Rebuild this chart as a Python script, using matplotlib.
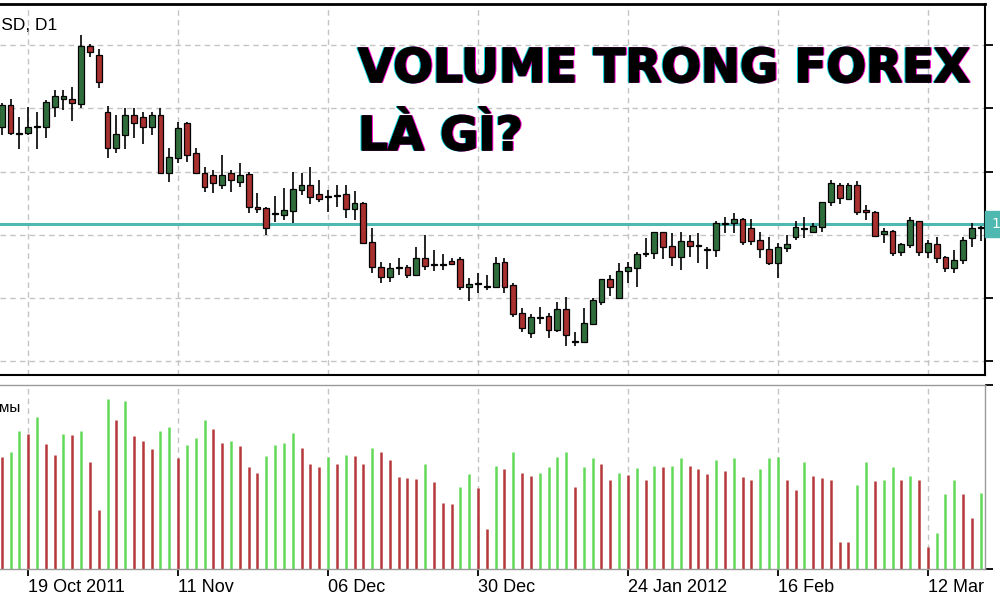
import matplotlib
matplotlib.use("Agg")
import matplotlib.pyplot as plt
import matplotlib.transforms as mtransforms
import matplotlib.patheffects as pe
import numpy as np

# EURUSD daily, 14 Oct 2011 .. 16 Mar 2012
opens = [1.3765, 1.3875, 1.3735, 1.3735, 1.3765, 1.3765, 1.3865, 1.3905, 1.3905, 1.3880,
         1.4170, 1.4125, 1.3840, 1.3660, 1.3725, 1.3825, 1.3815, 1.3765, 1.3825, 1.3535,
         1.3610, 1.3785, 1.3635, 1.3535, 1.3525, 1.3475, 1.3535, 1.3490, 1.3530, 1.3365,
         1.3360, 1.3330, 1.3325, 1.3345, 1.3450, 1.3475, 1.3430, 1.3420, 1.3420, 1.3430,
         1.3355, 1.3385, 1.3190, 1.3065, 1.3015, 1.3065, 1.3065, 1.3025, 1.3110, 1.3080,
         1.3080, 1.3095, 1.3105, 1.2965, 1.2985, 1.2965, 1.2965, 1.3090, 1.2975, 1.2835,
         1.2735, 1.2815, 1.2820, 1.2750, 1.2855, 1.2695, 1.2690, 1.2780, 1.2890, 1.3005,
         1.2910, 1.3045, 1.3060, 1.3130, 1.3135, 1.3240, 1.3170, 1.3115, 1.3195, 1.3170,
         1.3150, 1.3150, 1.3280, 1.3285, 1.3305, 1.3260, 1.3200, 1.3155, 1.3085, 1.3160,
         1.3215, 1.3255, 1.3240, 1.3265, 1.3390, 1.3475, 1.3405, 1.3475, 1.3350, 1.3340,
         1.3230, 1.3245, 1.3140, 1.3175, 1.3295, 1.3140, 1.3180, 1.3115, 1.3060, 1.3100,
         1.3210, 1.3260]
highs = [1.3885, 1.3905, 1.3815, 1.3865, 1.3840, 1.3900, 1.3950, 1.3950, 1.3965, 1.4225,
         1.4180, 1.4155, 1.3870, 1.3825, 1.3860, 1.3860, 1.3840, 1.3840, 1.3860, 1.3660,
         1.3790, 1.3790, 1.3660, 1.3565, 1.3550, 1.3625, 1.3550, 1.3585, 1.3540, 1.3435,
         1.3365, 1.3420, 1.3460, 1.3540, 1.3535, 1.3565, 1.3500, 1.3450, 1.3475, 1.3475,
         1.3445, 1.3390, 1.3260, 1.3090, 1.3085, 1.3110, 1.3075, 1.3165, 1.3225, 1.3150,
         1.3130, 1.3110, 1.3115, 1.3010, 1.3035, 1.3025, 1.3115, 1.3110, 1.2985, 1.2860,
         1.2830, 1.2865, 1.2835, 1.2890, 1.2915, 1.2740, 1.2860, 1.2910, 1.3005, 1.3025,
         1.3085, 1.3090, 1.3140, 1.3210, 1.3240, 1.3240, 1.3235, 1.3240, 1.3225, 1.3235,
         1.3165, 1.3295, 1.3315, 1.3335, 1.3310, 1.3305, 1.3240, 1.3215, 1.3185, 1.3225,
         1.3295, 1.3315, 1.3285, 1.3390, 1.3500, 1.3485, 1.3485, 1.3495, 1.3375, 1.3345,
         1.3260, 1.3250, 1.3185, 1.3315, 1.3295, 1.3200, 1.3215, 1.3120, 1.3150, 1.3215,
         1.3285, 1.3270]
lows = [1.3725, 1.3725, 1.3655, 1.3725, 1.3655, 1.3710, 1.3815, 1.3850, 1.3795, 1.3860,
        1.4115, 1.3960, 1.3610, 1.3635, 1.3655, 1.3710, 1.3680, 1.3725, 1.3530, 1.3490,
        1.3585, 1.3590, 1.3530, 1.3440, 1.3435, 1.3455, 1.3440, 1.3465, 1.3335, 1.3335,
        1.3225, 1.3290, 1.3300, 1.3285, 1.3425, 1.3380, 1.3390, 1.3340, 1.3365, 1.3310,
        1.3300, 1.3185, 1.3035, 1.2985, 1.2990, 1.3025, 1.3010, 1.3025, 1.3050, 1.3045,
        1.3050, 1.3075, 1.2950, 1.2895, 1.2935, 1.2950, 1.2965, 1.2935, 1.2815, 1.2740,
        1.2710, 1.2780, 1.2710, 1.2740, 1.2670, 1.2670, 1.2690, 1.2780, 1.2875, 1.2920,
        1.2910, 1.2985, 1.2965, 1.3115, 1.3105, 1.3105, 1.3070, 1.3050, 1.3115, 1.3085,
        1.3055, 1.3115, 1.3235, 1.3235, 1.3175, 1.3175, 1.3110, 1.3075, 1.3010, 1.3140,
        1.3200, 1.3210, 1.3235, 1.3240, 1.3370, 1.3380, 1.3405, 1.3325, 1.3300, 1.3215,
        1.3185, 1.3120, 1.3120, 1.3160, 1.3120, 1.3110, 1.3085, 1.3040, 1.3035, 1.3080,
        1.3165, 1.3195]
closes = [1.3875, 1.3735, 1.3730, 1.3765, 1.3770, 1.3890, 1.3920, 1.3920, 1.3885, 1.4170,
          1.4140, 1.3990, 1.3660, 1.3730, 1.3825, 1.3785, 1.3765, 1.3825, 1.3535, 1.3615,
          1.3760, 1.3625, 1.3535, 1.3465, 1.3485, 1.3525, 1.3500, 1.3525, 1.3365, 1.3355,
          1.3260, 1.3335, 1.3350, 1.3455, 1.3475, 1.3415, 1.3405, 1.3415, 1.3425, 1.3355,
          1.3385, 1.3185, 1.3065, 1.3015, 1.3060, 1.3060, 1.3025, 1.3110, 1.3070, 1.3075,
          1.3075, 1.3080, 1.2965, 1.2980, 1.2980, 1.2970, 1.3085, 1.2965, 1.2830, 1.2760,
          1.2815, 1.2810, 1.2750, 1.2855, 1.2725, 1.2690, 1.2785, 1.2900, 1.3005, 1.2965,
          1.3045, 1.3065, 1.3130, 1.3135, 1.3240, 1.3165, 1.3115, 1.3195, 1.3170, 1.3175,
          1.3155, 1.3285, 1.3285, 1.3305, 1.3190, 1.3195, 1.3155, 1.3085, 1.3165, 1.3180,
          1.3265, 1.3260, 1.3270, 1.3390, 1.3485, 1.3410, 1.3475, 1.3340, 1.3340, 1.3220,
          1.3245, 1.3135, 1.3180, 1.3300, 1.3140, 1.3185, 1.3110, 1.3060, 1.3100, 1.3200,
          1.3260, 1.3265]
volumes = [11230, 11730, 13830, 13500, 15230, 12470, 11400, 13500, 13450, 13830,
           10730, 5900, 16970, 14900, 16830, 13330, 12800, 11970, 13830, 14170,
           11070, 12400, 13130, 14900, 14000, 12630, 12800, 12300, 10170, 9630,
           11330, 12400, 12630, 13570, 12070, 10500, 10170, 11170, 10500, 11400,
           11300, 10500, 12070, 11730, 10900, 9230, 9070, 9050, 10470, 8730,
           6570, 6470, 8230, 9470, 8070, 3970, 10300, 10000, 11730, 9630,
           9300, 9630, 10170, 11230, 11730, 8230, 10230, 11070, 10500, 8900,
           9570, 9400, 10130, 8900, 10300, 10170, 10300, 11070, 10330, 10000,
           9470, 10900, 9830, 11070, 9170, 8900, 9970, 11070, 11170, 8900,
           7900, 10730, 9300, 9130, 8900, 2730, 2730, 8400, 10730, 8800,
           8900, 10230, 8900, 9300, 8900, 2230, 3630, 7500, 8900, 7500,
           5070, 7630]

date_idx = [3, 20, 37, 54, 71, 88, 105]
date_labels = ["19 Oct 2011", "11 Nov", "06 Dec", "30 Dec", "24 Jan 2012", "16 Feb", "12 Mar"]
price_ticks = [1.4175, 1.3860, 1.3540, 1.3225, 1.2910, 1.2595]
last_price = 1.3280
vol_max = 18400

W, H = 1000, 600
GRID = dict(color="#c4c4c4", linestyle=(0, (4, 3)), linewidth=1.0)
BULL, BEAR = "#2f6e3c", "#a8302f"
VUP, VDN = "#62d957", "#b5383a"
TEAL = "#4fb8b1"


def box(x0, y0, x1, y1):
    return [x0 / W, 1 - y1 / H, (x1 - x0) / W, (y1 - y0) / H]


fig = plt.figure(figsize=(10, 6), dpi=100)
fig.patch.set_facecolor("white")
ax = fig.add_axes(box(0, 4, 985, 375))
axv = fig.add_axes(box(0, 385, 985, 569), sharex=ax)

n = len(opens)
x = np.arange(n)
o, h, l, c = map(np.array, (opens, highs, lows, closes))

# grid
for i in date_idx:
    ax.axvline(i, zorder=0, **GRID)
    axv.axvline(i, zorder=0, **GRID)
for p in price_ticks:
    ax.axhline(p, zorder=0, **GRID)

ax.axhline(last_price, color=TEAL, linewidth=2.2, zorder=1)

# candles
up = c >= o
ax.vlines(x, l, h, color="black", linewidth=1.2, zorder=2)
body_lo = np.minimum(o, c)
body_h = np.maximum(np.abs(c - o), 0.0002)
ax.bar(x, body_h, bottom=body_lo, width=0.66,
       color=np.where(up, BULL, BEAR), edgecolor="black", linewidth=0.9, zorder=3)

ax.set_xlim(-1.7 / 8.82, (985 - 1.7) / 8.82)
ax.set_ylim(1.44 - 375 * 0.0005, 1.44 - 4 * 0.0005)

# volumes, green when higher than the previous bar
vol = np.array(volumes)
rising = np.r_[False, vol[1:] > vol[:-1]]
axv.vlines(x, 0, vol, colors=np.where(rising, VUP, VDN), linewidth=1.8)
axv.set_ylim(0, vol_max)

# axes cosmetics
for a in (ax, axv):
    a.yaxis.tick_right()
    a.spines["left"].set_visible(False)
ax.spines["top"].set_linewidth(2.0)
ax.spines["right"].set_linewidth(1.5)
ax.spines["bottom"].set_linewidth(1.5)
for s in ("top", "right", "bottom"):
    axv.spines[s].set_color("#9a9a9a")
    axv.spines[s].set_linewidth(1.0)

ax.set_yticks(price_ticks)
ax.set_yticklabels([f"{p:.4f}" for p in price_ticks])
ax.tick_params(axis="y", direction="out", length=6, width=1.3, pad=4, labelsize=8)
ax.tick_params(axis="x", length=0, labelbottom=False)

axv.set_yticks([0, vol_max])
axv.set_yticklabels(["0", str(vol_max)])
axv.tick_params(axis="y", direction="out", length=6, width=1.3, pad=4, labelsize=8)
axv.set_xticks(date_idx)
axv.set_xticklabels(date_labels, ha="left", fontsize=13, family="Liberation Sans")
axv.tick_params(axis="x", direction="out", length=5, width=1.3, pad=2)

# last price tag on the price scale
tag_tr = ax.get_yaxis_transform() + mtransforms.ScaledTranslation(6 / 100, 0, fig.dpi_scale_trans)
ax.text(1.0, last_price, f"{last_price:.4f}", transform=tag_tr,
        va="center", ha="left", fontsize=10, color="white",
        bbox=dict(boxstyle="square,pad=0.45", facecolor=TEAL, edgecolor=TEAL))

# window captions (cropped at the left edge in the original)
fig.text(57 / W, 1 - 25 / H, "EURUSD, D1", ha="right", va="center",
         fontsize=12.5, family="Liberation Sans")
fig.text(20 / W, 1 - 408 / H, "Объемы", ha="right", va="center",
         fontsize=11, family="Liberation Sans")

# headline with a small cyan/magenta split, sized to span x=358..972
lines = [("VOLUME TRONG FOREX", 82), ("LÀ GÌ?", 150)]
title_texts = []
for txt, base in lines:
    for dx, col in ((-1.0, "#00d8e0"), (1.0, "#ff00d0"), (0, "black")):
        tr = fig.transFigure + mtransforms.ScaledTranslation(dx / 100, 0, fig.dpi_scale_trans)
        t = fig.text(358 / W, 1 - base / H, txt, transform=tr, ha="left", va="baseline",
                     fontsize=36, fontweight="bold", family="DejaVu Sans", color=col,
                     path_effects=[pe.withStroke(linewidth=1.2, foreground=col)])
        title_texts.append(t)
fig.canvas.draw()
w = title_texts[2].get_window_extent().width
for t in title_texts:
    t.set_fontsize(36 * 612 / w)

fig.savefig("out.png", dpi=100)
plt.close(fig)
